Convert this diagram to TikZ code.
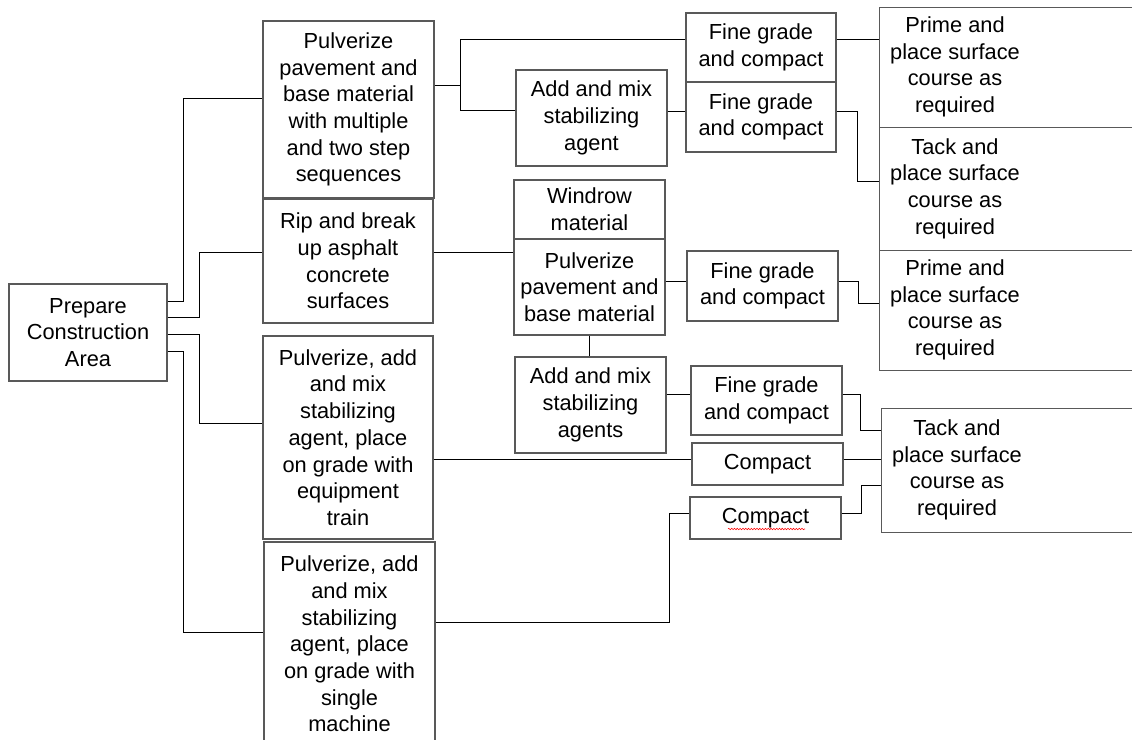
\documentclass[tikz,border=0pt]{standalone}
\usepackage{fontspec}
\setmainfont{Liberation Sans}
\usetikzlibrary{positioning, decorations.pathmorphing}

\tikzset{
  box/.style={draw=black!65, line width=0.8pt, align=center, inner sep=1pt,
    font=\fontsize{15.5}{19}\selectfont},
  boxtext/.style={align=center, inner sep=0pt, font=\fontsize{15.5}{19}\selectfont},
  link/.style={line width=0.6pt}
}

\begin{document}
\begin{tikzpicture}[x=0.025cm, y=-0.025cm]
  \path[use as bounding box, clip] (0,0) rectangle (1132,740);
  % first column
  \node[box, minimum width=3.95cm, minimum height=2.425cm] (prep) at (88,332.5) {Prepare\\Construction\\Area};
  % second column
  \node[box, minimum width=4.275cm, minimum height=4.425cm] (multi) at (348.5,109.5)
    {Pulverize\\pavement and\\base material\\with multiple\\and two step\\sequences};
  \node[box, minimum width=4.25cm, minimum height=3.1cm] (rip) at (348,261)
    {Rip and break\\up asphalt\\concrete\\surfaces};
  \node[box, minimum width=4.25cm, minimum height=5.075cm] (train) at (348,437.5)
    {Pulverize, add\\and mix\\stabilizing\\agent, place\\on grade with\\equipment\\train};
  \node[box, minimum width=4.275cm, minimum height=5.1cm] (single) at (349.5,644)
    {Pulverize, add\\and mix\\stabilizing\\agent, place\\on grade with\\single\\machine};
  % third column
  \node[box, minimum width=3.775cm, minimum height=2.4cm] (addA) at (591.5,118) {Add and mix\\stabilizing\\agent};
  \node[box, minimum width=3.775cm, minimum height=1.475cm] (windrow) at (589.5,209.5) {Windrow\\material};
  \node[box, minimum width=3.775cm, minimum height=2.4cm] (pulvB) at (589.5,287) {Pulverize\\pavement and\\base material};
  \node[box, minimum width=3.775cm, minimum height=2.4cm] (addB) at (590.5,405) {Add and mix\\stabilizing\\agents};
  % fourth column
  \node[box, minimum width=3.75cm, minimum height=1.725cm] (fgA) at (761,47.5) {Fine grade\\and compact};
  \node[box, minimum width=3.75cm, minimum height=1.75cm] (fgB) at (761,117) {Fine grade\\and compact};
  \node[box, minimum width=3.775cm, minimum height=1.75cm] (fgC) at (762.5,286) {Fine grade\\and compact};
  \node[box, minimum width=3.775cm, minimum height=1.725cm] (fgD) at (766.5,400.5) {Fine grade\\and compact};
  \node[box, minimum width=3.775cm, minimum height=1.05cm] (compA) at (767.5,464) {Compact};
  \node[box, minimum width=3.775cm, minimum height=1.05cm] (compB) at (765.5,518) {Compact};
  \draw[red, line width=0.4pt, decorate, decoration={snake, amplitude=0.5pt, segment length=2pt}]
    (728,529) -- (805,529);
  % last column (boxes run past the right edge)
  \node[box, anchor=north west, minimum width=6.8cm, minimum height=3.0cm] (primeA) at (879,7) {};
  \node[box, anchor=north west, minimum width=6.8cm, minimum height=3.075cm] (tackA) at (879,127) {};
  \node[box, anchor=north west, minimum width=6.8cm, minimum height=3.0cm] (primeB) at (879,250) {};
  \node[box, anchor=north west, minimum width=6.8cm, minimum height=3.1cm] (tackB) at (881,408) {};
  \node[boxtext] (primeAt) at (955,67) {Prime and\\place surface\\course as\\required};
  \node[boxtext] (tackAt) at (955,188.5) {Tack and\\place surface\\course as\\required};
  \node[boxtext] (primeBt) at (955,310) {Prime and\\place surface\\course as\\required};
  \node[boxtext] (tackBt) at (957,470) {Tack and\\place surface\\course as\\required};

  % from the start box
  \draw[link] (prep.east |- 0,301) -- ++(16,0) |- (multi.west |- 0,98);
  \draw[link] (prep.east |- 0,317) -- ++(32,0) |- (rip.west |- 0,252);
  \draw[link] (prep.east |- 0,334) -- ++(32,0) |- (train.west |- 0,423);
  \draw[link] (prep.east |- 0,351) -- ++(16,0) |- (single.west |- 0,632);
  % upper branch
  \draw[link] (multi.east |- 0,85) -- ++(26,0) coordinate (j1);
  \draw[link] (fgA.west |- 0,39) -| (j1) |- (addA.west |- 0,110);
  \draw[link] (addA.east |- 0,111) -- (fgB.west |- 0,111);
  \draw[link] (fgA.east |- 0,39) -- (primeA.west |- 0,39);
  \draw[link] (fgB.east |- 0,111) -- ++(21,0) |- (tackA.west |- 0,181);
  % middle branch
  \draw[link] (rip.east |- 0,252) -- (pulvB.west |- 0,252);
  \draw[link] (pulvB.east |- 0,281) -- (fgC.west |- 0,281);
  \draw[link] (fgC.east |- 0,281) -- ++(20,0) |- (primeB.west |- 0,303);
  \draw[link] (pulvB.south) -- (pulvB.south |- addB.north);
  \draw[link] (addB.east |- 0,394) -- (fgD.west |- 0,394);
  \draw[link] (fgD.east |- 0,394) -- ++(18,0) |- (tackB.west |- 0,430);
  % lower branches
  \draw[link] (train.east |- 0,459) -- (compA.west |- 0,459);
  \draw[link] (compA.east |- 0,459) -- (tackB.west |- 0,459);
  \draw[link] (single.east |- 0,622) -- (669,622) |- (compB.west |- 0,513);
  \draw[link] (compB.east |- 0,513) -- ++(20,0) |- (tackB.west |- 0,485);
\end{tikzpicture}
\end{document}
